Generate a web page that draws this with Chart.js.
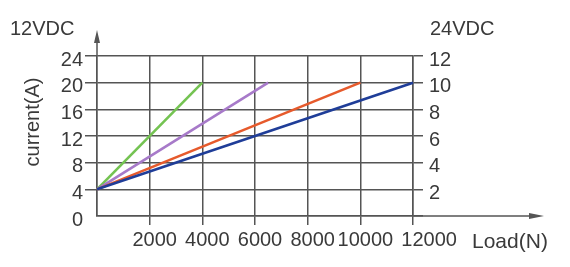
<!DOCTYPE html>
<html>
<head>
<meta charset="utf-8">
<script src="https://cdn.jsdelivr.net/npm/chart.js@4/dist/chart.umd.min.js"></script>
<style>
    html, body { margin: 0; padding: 0; background: #fff; }
</style>
</head>
<body>
<canvas id="myChart" width="570" height="267"></canvas>
<script>
// tick values
const loadTicks = [0, 2000, 4000, 6000, 8000, 10000, 12000];
const current12Ticks = [0, 4, 8, 12, 16, 20, 24];
const current24Ticks = [0, 2, 4, 6, 8, 10, 12];

// series: load (N) -> current (A, 12VDC scale)
const greenLoad = [0, 4000];
const greenCurrent = [4, 20];
const purpleLoad = [0, 6500];
const purpleCurrent = [4, 20];
const redLoad = [0, 10000];
const redCurrent = [4, 20];
const blueLoad = [0, 12000];
const blueCurrent = [4, 20];

const gridColor = '#555';
const textColor = '#3a3a3a';
const fontFamily = '"Liberation Sans", Arial, sans-serif';

function toPoints(xs, ys) {
    return xs.map((x, i) => ({ x: x, y: ys[i] }));
}

function lineSet(xs, ys, color) {
    return {
        data: toPoints(xs, ys),
        borderColor: color,
        borderWidth: 2.6,
        pointRadius: 0,
        fill: false,
        clip: false,
    };
}

function setTicks(values) {
    return scale => { scale.ticks = values.map(v => ({ value: v })); };
}

// hide tick mark at zero
const tickColorNoZero = ctx => (ctx.tick && ctx.tick.value === 0) ? 'rgba(0,0,0,0)' : gridColor;

// arrows and axis titles
const decorations = {
    id: 'decorations',
    afterDraw(chart) {
        const { ctx, chartArea: a } = chart;
        ctx.save();
        ctx.strokeStyle = gridColor;
        ctx.fillStyle = gridColor;
        ctx.lineWidth = 1.5;

        // y axis arrow
        ctx.beginPath();
        ctx.moveTo(a.left, a.top);
        ctx.lineTo(a.left, 40);
        ctx.stroke();
        ctx.beginPath();
        ctx.moveTo(a.left, 30);
        ctx.lineTo(a.left - 3, 43);
        ctx.lineTo(a.left + 3, 43);
        ctx.closePath();
        ctx.fill();

        // x axis arrow
        ctx.beginPath();
        ctx.moveTo(a.right, a.bottom);
        ctx.lineTo(532, a.bottom);
        ctx.stroke();
        ctx.beginPath();
        ctx.moveTo(544, a.bottom);
        ctx.lineTo(529, a.bottom - 3);
        ctx.lineTo(529, a.bottom + 3);
        ctx.closePath();
        ctx.fill();

        // titles
        ctx.fillStyle = textColor;
        ctx.font = '20px ' + fontFamily;
        ctx.textBaseline = 'alphabetic';
        ctx.textAlign = 'left';
        ctx.fillText('12VDC', 10, 35);
        ctx.fillText('24VDC', 430, 35);
        ctx.font = '21px ' + fontFamily;
        ctx.fillText('Load(N)', 472, 248);

        ctx.translate(39, 122);
        ctx.rotate(-Math.PI / 2);
        ctx.textAlign = 'center';
        ctx.font = '20px ' + fontFamily;
        ctx.fillText('current(A)', 0, 0);
        ctx.restore();
    }
};

const ctx = document.getElementById('myChart').getContext('2d');
const chart = new Chart(ctx, {
    type: 'line',
    data: {
        datasets: [
            lineSet(blueLoad, blueCurrent, '#1f3d98'),
            lineSet(redLoad, redCurrent, '#e65a2c'),
            lineSet(purpleLoad, purpleCurrent, '#a77ac9'),
            lineSet(greenLoad, greenCurrent, '#74c352'),
        ],
    },
    options: {
        responsive: false,
        animation: false,
        layout: { padding: { top: 56, left: 0, right: 0, bottom: 0 } },
        plugins: {
            legend: { display: false },
            tooltip: { enabled: false },
        },
        scales: {
            x: {
                type: 'linear',
                min: 0,
                max: 12000,
                afterBuildTicks: setTicks(loadTicks),
                afterFit: scale => { scale.height = 51; },
                grid: { color: gridColor, tickColor: tickColorNoZero, lineWidth: 1.5, tickLength: 9 },
                border: { color: gridColor, width: 1.5 },
                ticks: {
                    color: textColor,
                    font: { size: 20, family: fontFamily },
                    padding: 3,
                    labelOffset: 5,
                    maxRotation: 0,
                    autoSkip: false,
                    callback: v => v === 0 ? '' : (v === 12000 ? '    ' + v : String(v)),
                },
            },
            y: {
                position: 'left',
                min: 0,
                max: 24,
                afterBuildTicks: setTicks(current12Ticks),
                afterFit: scale => { scale.width = 97; },
                grid: { color: gridColor, tickColor: tickColorNoZero, lineWidth: 1.5, tickLength: 12 },
                border: { color: gridColor, width: 1.5 },
                ticks: {
                    color: textColor,
                    font: { size: 20, family: fontFamily },
                    padding: 2,
                    labelOffset: 4,
                    autoSkip: false,
                    callback: v => String(v),
                },
            },
            y2: {
                position: 'right',
                min: 0,
                max: 12,
                afterBuildTicks: setTicks(current24Ticks),
                afterFit: scale => { scale.width = 157; },
                grid: { drawOnChartArea: false, color: gridColor, lineWidth: 1.5, tickLength: 10 },
                border: { color: gridColor, width: 1.5 },
                ticks: {
                    color: textColor,
                    font: { size: 20, family: fontFamily },
                    padding: 6,
                    labelOffset: 4,
                    autoSkip: false,
                    callback: v => v === 0 ? '' : String(v),
                },
            },
        },
    },
    plugins: [decorations],
});
</script>
</body>
</html>
